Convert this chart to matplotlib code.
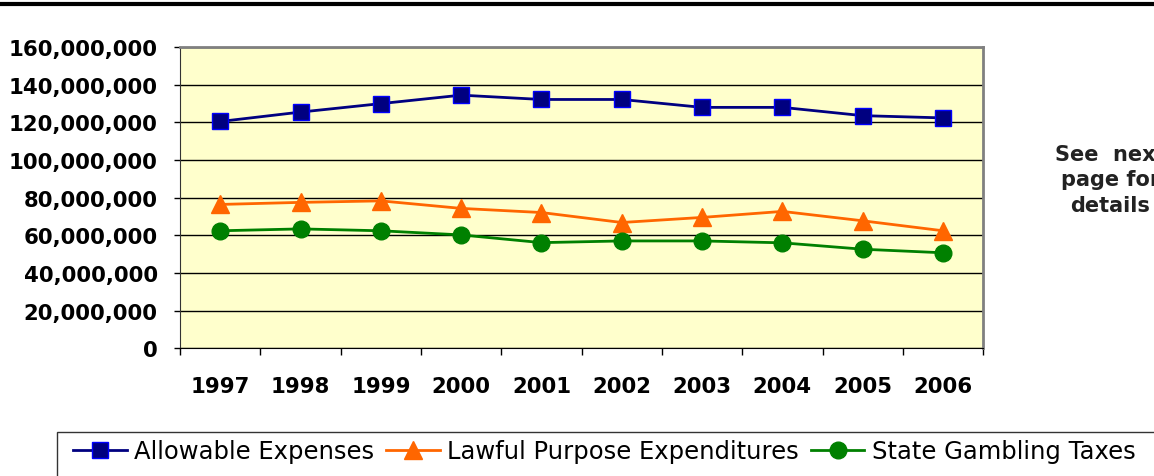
import numpy as np
import matplotlib
matplotlib.use('Agg')
import matplotlib.pyplot as plt
from matplotlib.lines import Line2D
from matplotlib.patches import Rectangle
from matplotlib.ticker import FuncFormatter, MultipleLocator

plt.rcParams['font.family'] = ['DejaVu Sans']

years = [1997, 1998, 1999, 2000, 2001, 2002, 2003, 2004, 2005, 2006]
allowable = [120.5e6, 125.5e6, 130.0e6, 134.5e6, 132.2e6, 132.2e6, 128.0e6, 128.0e6, 123.6e6, 122.4e6]
lawful = [76.4e6, 77.5e6, 78.3e6, 74.3e6, 72.1e6, 66.8e6, 69.5e6, 72.7e6, 67.7e6, 62.4e6]
gambling = [62.4e6, 63.4e6, 62.4e6, 60.2e6, 56.1e6, 57.0e6, 57.0e6, 56.0e6, 52.6e6, 50.7e6]

fig = plt.figure(figsize=(11.54, 4.77), dpi=100)
ax = fig.add_axes([0.156, 0.268, 0.696, 0.631])
ax.set_facecolor('#FFFFCC')

ax.plot(years, allowable, color='#000080', lw=2, marker='s', ms=11.5,
        mfc='#000080', mec='#0000FF', mew=1, label='Allowable Expenses', zorder=3)
ax.plot(years, lawful, color='#FF6600', lw=2, marker='^', ms=13,
        mfc='#FF6600', mec='#FF6600', label='Lawful Purpose Expenditures', zorder=3)
ax.plot(years, gambling, color='#008000', lw=2, marker='o', ms=12,
        mfc='#008000', mec='#008000', label='State Gambling Taxes', zorder=3)

ax.set_ylim(0, 160e6)
ax.set_xlim(1996.5, 2006.5)
ax.yaxis.set_major_locator(MultipleLocator(20e6))
ax.yaxis.set_major_formatter(FuncFormatter(lambda v, p: f'{int(v):,}'))
ax.grid(axis='y', color='black', lw=1, zorder=1)
ax.set_axisbelow(True)

ax.set_xticks(years)
ax.set_xticklabels([str(y) for y in years])
ax.set_xticks(np.arange(1996.5, 2007, 1), minor=True)
ax.tick_params(axis='x', which='major', length=0, pad=20)
ax.tick_params(axis='x', which='minor', length=5, width=1, direction='out')
ax.tick_params(axis='y', length=4, width=1, direction='out', pad=12)
for lab in ax.get_yticklabels():
    lab.set_fontsize(15.3)
    lab.set_fontweight('bold')
for lab in ax.get_xticklabels():
    lab.set_fontsize(15.3)
    lab.set_fontweight('bold')

for s in ['top', 'right']:
    ax.spines[s].set_color('#808080')
    ax.spines[s].set_linewidth(2)
ax.spines['left'].set_color('#333333')
ax.spines['bottom'].set_color('black')

# top rule
fig.add_artist(Line2D([0, 1], [0.989, 0.989], color='black', lw=3, transform=fig.transFigure))

# note on the right
fig.text(0.962, 0.622, 'See  next\npage for\ndetails', ha='center', va='center',
         fontsize=15, fontweight='bold', color='#222222', linespacing=1.35)

# legend box
fig.add_artist(Rectangle((0.049, -0.05), 1.0, 0.143, transform=fig.transFigure,
                         fill=False, edgecolor='#333333', lw=1))
fig.legend(loc='center left', bbox_to_anchor=(0.055, 0.052), ncol=3, frameon=False,
           fontsize=17.5, handlelength=2.2, handletextpad=0.3, columnspacing=0.5,
           borderaxespad=0)

fig.savefig('out.png', dpi=100)
